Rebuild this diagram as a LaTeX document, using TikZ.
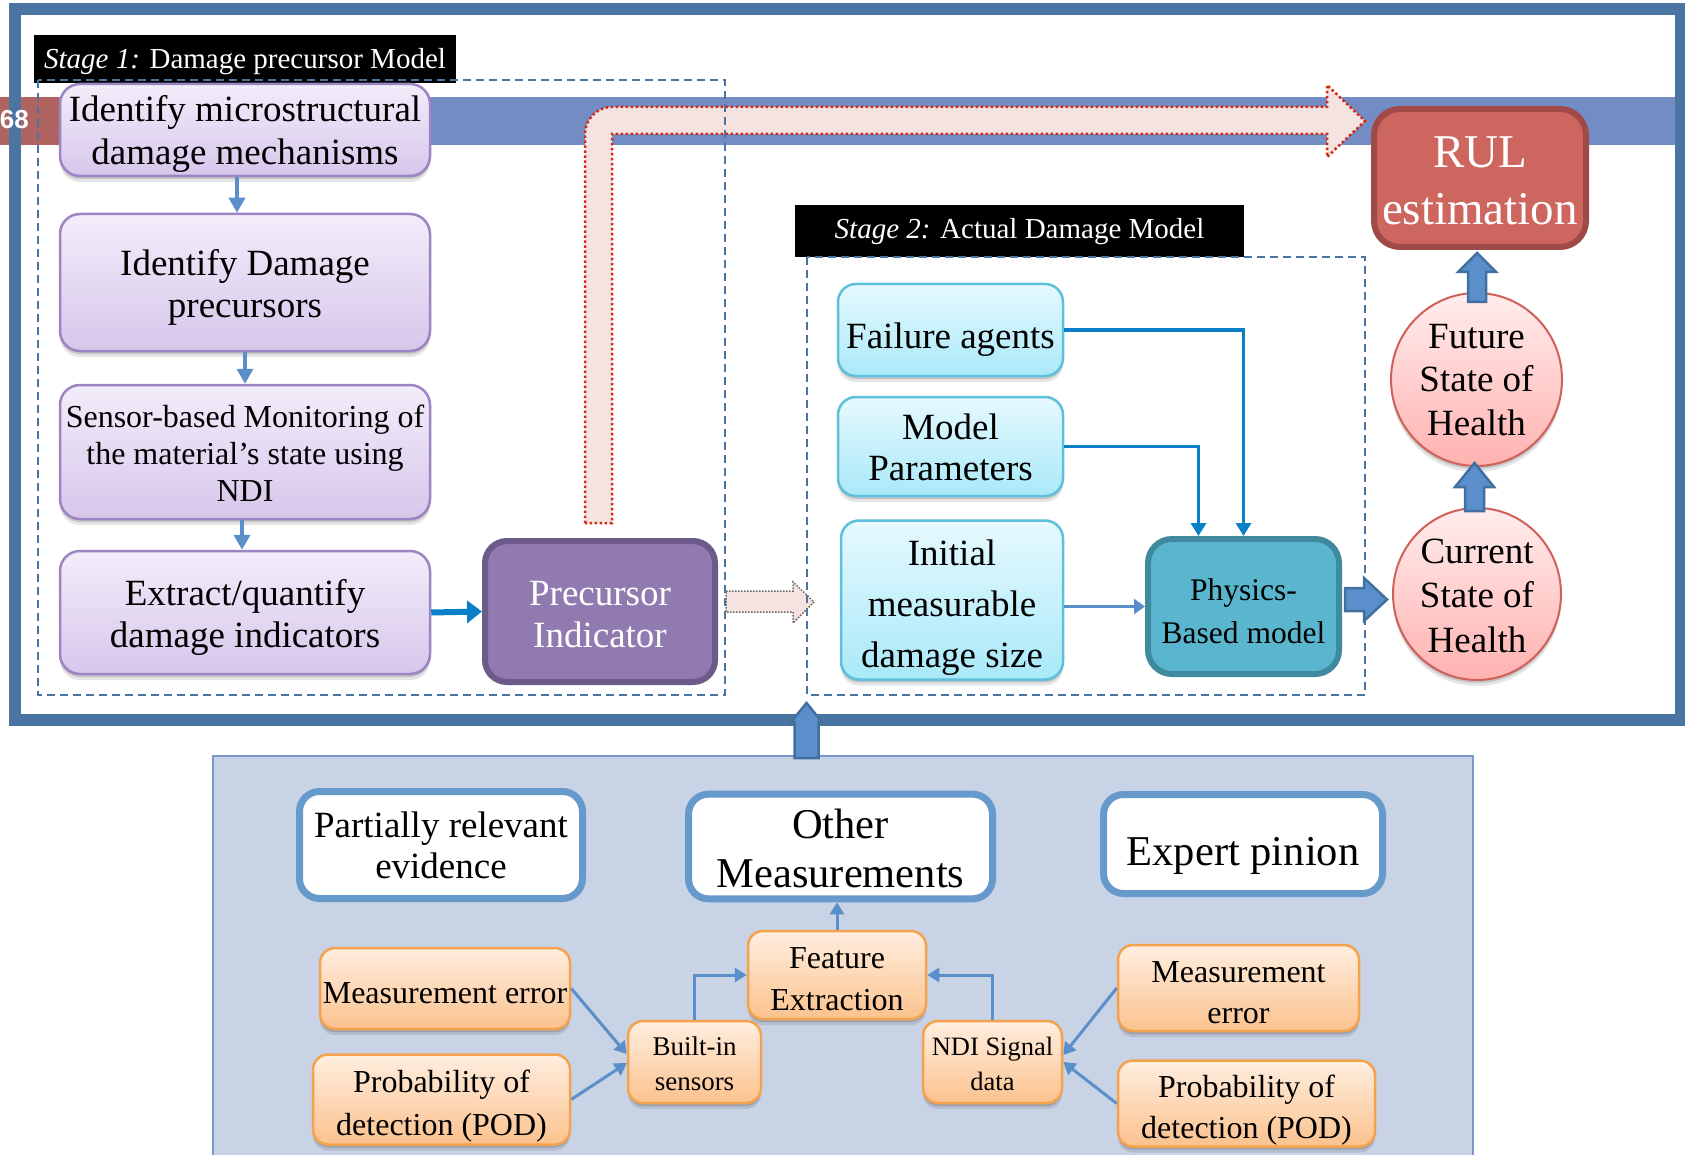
\documentclass[tikz,border=0pt]{standalone}
\usepackage{fontspec}
\setmainfont{Liberation Serif}
\newfontfamily\numfont{Liberation Sans}
\usetikzlibrary{shapes.geometric, arrows.meta, shadows, calc}

% palette
\definecolor{framec}{HTML}{4A74A2}
\definecolor{bandc}{HTML}{738CC4}
\definecolor{slidered}{HTML}{B06462}
\definecolor{dashc}{HTML}{4A74A2}
\definecolor{purptop}{HTML}{F2EDFA}
\definecolor{purpbot}{HTML}{D7C6EB}
\definecolor{purpedge}{HTML}{9D84C2}
\definecolor{precfill}{HTML}{917AB0}
\definecolor{precedge}{HTML}{6C5A8A}
\definecolor{cyantop}{HTML}{E6F9FE}
\definecolor{cyanbot}{HTML}{A9E9F9}
\definecolor{cyanedge}{HTML}{5EC0DA}
\definecolor{physfill}{HTML}{5AB6CF}
\definecolor{physedge}{HTML}{3F8A9F}
\definecolor{rulfill}{HTML}{CD665F}
\definecolor{ruledge}{HTML}{A04A47}
\definecolor{pinktop}{HTML}{FFEDED}
\definecolor{pinkbot}{HTML}{FFB2B0}
\definecolor{pinkedge}{HTML}{D0605A}
\definecolor{linkc}{HTML}{5B8FCB}
\definecolor{linkdark}{HTML}{0A7FCA}
\definecolor{blockfill}{HTML}{5B8FCB}
\definecolor{blockedge}{HTML}{41709E}
\definecolor{panelc}{HTML}{C9D3E6}
\definecolor{paneledge}{HTML}{7C98C8}
\definecolor{whiteedge}{HTML}{6699CC}
\definecolor{orgtop}{HTML}{FFEEDF}
\definecolor{orgbot}{HTML}{FBC28E}
\definecolor{orgedge}{HTML}{F5A24E}
\definecolor{arrowpink}{HTML}{F5E3E1}
\definecolor{dotred}{HTML}{D42A14}
\definecolor{dotgray}{HTML}{6E6A66}

\newcommand\fs[2]{\fontsize{#1}{#2}\selectfont}
% centred lines of a label, lowered by #1 pt without changing the box size
\newcommand\tx[2]{\raisebox{-#1pt}[\height][\depth]{\begin{tabular}{@{}c@{}}#2\end{tabular}}}

\tikzset{
  softshadow/.style={
    drop shadow={shadow xshift=0pt, shadow yshift=-3pt, opacity=0.14, fill=black},
    drop shadow={shadow xshift=0pt, shadow yshift=-6pt, opacity=0.10, fill=black}},
  purplebox/.style={draw=purpedge, line width=2.5pt, rounded corners=20pt,
    top color=purptop, bottom color=purpbot, inner sep=3pt, softshadow},
  precbox/.style={draw=precedge, line width=6pt, rounded corners=22pt, fill=precfill, text=white},
  cyanbox/.style={draw=cyanedge, line width=2.5pt, rounded corners=18pt,
    top color=cyantop, bottom color=cyanbot, inner sep=3pt, softshadow},
  physbox/.style={draw=physedge, line width=6pt, rounded corners=24pt, fill=physfill},
  rulbox/.style={draw=ruledge, line width=6pt, rounded corners=26pt, fill=rulfill, text=white},
  healthnode/.style={ellipse, draw=pinkedge, line width=2pt, top color=pinktop, bottom color=pinkbot,
    inner sep=-8pt, softshadow},
  stagelabel/.style={fill=black, text=white, inner sep=0pt},
  dashbox/.style={draw=dashc, line width=1.8pt, dash pattern=on 8pt off 5pt},
  whitebox/.style={draw=whiteedge, line width=7pt, rounded corners=20pt, fill=white},
  orangebox/.style={draw=orgedge, line width=2.5pt, rounded corners=15pt,
    top color=orgtop, bottom color=orgbot, inner sep=2pt, softshadow},
  lnk/.style={draw=linkc, line width=4.5pt, -{Triangle[length=15pt,width=16pt]}},
  lnkthick/.style={draw=linkdark, line width=6pt, -{Triangle[length=15pt,width=22pt]}},
  lnkdark/.style={draw=linkdark, line width=3.5pt, -{Triangle[length=13pt,width=15pt]}},
  lnkmid/.style={draw=linkc, line width=3.5pt, -{Triangle[length=11pt,width=15pt]}},
  lnksmall/.style={draw=linkc, line width=3pt, -{Triangle[length=12pt,width=14pt]}},
  blockarrow/.style={fill=blockfill, draw=blockedge, line width=2.5pt, line join=miter},
}

% vertical block arrow: x, base y, tip y, shaft half-width, head half-width, head length
\newcommand\uparrowshape[6]{%
  \filldraw[blockarrow] (#1-#4,#2) -- (#1-#4,#3+#6) -- (#1-#5,#3+#6) -- (#1,#3)
    -- (#1+#5,#3+#6) -- (#1+#4,#3+#6) -- (#1+#4,#2) -- cycle;}

\begin{document}
\begin{tikzpicture}[x=1pt, y=-1pt]
\useasboundingbox (0,0) rectangle (1685,1155);
\fill[white] (0,0) rectangle (1685,1155);

% slide title band behind the frame
\fill[bandc] (59,97) rectangle (1685,145);
\fill[slidered] (0,97) rectangle (59,145);

% outer frame
\draw[framec, line width=12pt] (14.5,9) rectangle (1681,720);
\node[anchor=east, text=white, inner sep=0pt, font=\numfont\bfseries\fs{26}{30}] (pagenum) at (29,120) {68};

% lower evidence panel
\filldraw[fill=panelc, draw=paneledge, line width=1.5pt] (213,756) rectangle (1473,1165);

% stage headers
\node[stagelabel, minimum width=422pt, minimum height=48pt, font=\fs{29}{34}] (st1) at (245,59)
  {\tx{2.5}{\textit{Stage 1:} Damage precursor Model}};
\node[stagelabel, minimum width=449pt, minimum height=52pt, font=\fs{29}{34}] (st2) at (1019.5,231)
  {\tx{0.5}{\textit{Stage 2:} Actual Damage Model}};

% precursor path to the RUL estimate
\filldraw[fill=arrowpink, draw=dotred, line width=2.5pt, dash pattern=on 2.5pt off 2.5pt]
  (585,523) -- (585,134) .. controls (585,119) and (597,107) .. (612,107) -- (1327,107)
  -- (1327,85) -- (1365,121) -- (1327,157) -- (1327,134) -- (612,134) -- (612,523) -- cycle;

% hand-over from stage 1 to stage 2
\filldraw[fill=arrowpink, draw=dotgray, line width=1.5pt, dash pattern=on 1.5pt off 1.5pt]
  (726,591) -- (793,591) -- (793,582) -- (814,602) -- (793,623) -- (793,612) -- (726,612) -- cycle;

% stage regions
\draw[dashbox] (38,80) rectangle (725,695);
\draw[dashbox] (807,257) rectangle (1365,695);

% stage 1
\node[purplebox, minimum width=370pt, minimum height=92pt, font=\fs{37}{43}] (b1) at (245,130)
  {\tx{4.6}{Identify microstructural\\damage mechanisms}};
\node[purplebox, minimum width=370pt, minimum height=137pt, font=\fs{37}{42}] (b2) at (245,282.5)
  {\tx{6.1}{Identify Damage\\precursors}};
\node[purplebox, minimum width=370pt, minimum height=134pt, font=\fs{32}{37}] (b3) at (245,452)
  {\tx{4.6}{Sensor-based Monitoring of\\the material’s state using\\NDI}};
\node[purplebox, minimum width=370pt, minimum height=123pt, font=\fs{37}{42}] (b4) at (245,612.5)
  {\tx{5.1}{Extract/quantify\\damage indicators}};
\node[precbox, minimum width=230pt, minimum height=141pt, font=\fs{37}{42}] (prec) at (600,611.5)
  {\tx{6.1}{Precursor\\Indicator}};

\draw[lnk] ([xshift=-8pt]b1.south) -- ([xshift=-8pt]b2.north);
\draw[lnk] (b2.south) -- (b2.south |- b3.north);
\draw[lnk] ([xshift=-3pt]b3.south) -- ([xshift=-3pt]b4.north);
\draw[lnkthick] (b4.east) -- (prec.west);

% stage 2
\node[cyanbox, minimum width=225pt, minimum height=92pt, font=\fs{37}{42}] (fail) at (950.5,330)
  {\tx{9.6}{Failure agents}};
\node[cyanbox, minimum width=225pt, minimum height=99pt, font=\fs{37}{41}] (mp) at (950.5,446.5)
  {\tx{4.8}{Model\\Parameters}};
\node[cyanbox, minimum width=222pt, minimum height=148pt, font=\fs{37}{51}] (init) at (952,600)
  {\tx{5.8}{Initial\\measurable\\damage size}};
\node[physbox, minimum width=191pt, minimum height=135pt, font=\fs{31.5}{43}] (phys) at (1243.5,606.5)
  {\tx{6.4}{Physics-\\Based model}};

\draw[lnkdark] (fail.east) -| (phys.north);
\draw[lnkdark] (mp.east) -| ([xshift=-45pt]phys.north);
\draw[lnkmid] (init.east |- phys.west) -- (phys.west);

% health states and RUL
\node[rulbox, minimum width=212pt, minimum height=138pt, font=\fs{47}{57}] (rul) at (1480,178)
  {\tx{7.1}{RUL\\estimation}};
\node[healthnode, minimum width=171pt, minimum height=173pt, font=\fs{37}{43.5}] (fut) at (1476.5,379.5)
  {\tx{3.3}{Future\\State of\\Health}};
\node[healthnode, minimum width=168pt, minimum height=172pt, font=\fs{37}{44.5}] (cur) at (1477,594)
  {\tx{4.6}{Current\\State of\\Health}};

\uparrowshape{1477}{302}{253}{9}{19}{19}
\uparrowshape{1474.5}{511}{463}{9.5}{19.5}{24}
\filldraw[blockarrow] (1345,588) -- (1364,588) -- (1364,578) -- (1387,599.5) -- (1364,621)
  -- (1364,611) -- (1345,611) -- cycle;
\uparrowshape{806.5}{758}{703}{12}{15.5}{19}

% evidence sources
\node[whitebox, minimum width=283pt, minimum height=107pt, font=\fs{37}{41}] (part) at (441,845)
  {\tx{4.3}{Partially relevant\\evidence}};
\node[whitebox, minimum width=304pt, minimum height=104pt, font=\fs{42.5}{49}] (oth) at (840.5,846.5)
  {\tx{6.2}{Other\\Measurements}};
\node[whitebox, minimum width=279pt, minimum height=99pt, font=\fs{42.5}{49}] (exp) at (1243,844)
  {\tx{11.2}{Expert pinion}};

\node[orangebox, minimum width=250pt, minimum height=81pt, font=\fs{32}{42}] (meL) at (445,988.5)
  {\tx{6.1}{Measurement error}};
\node[orangebox, minimum width=257pt, minimum height=79pt, font=\fs{32}{43}] (podL) at (441.5,1099.5)
  {\tx{5.4}{Probability of\\detection (POD)}};
\node[orangebox, minimum width=133pt, minimum height=82pt, font=\fs{27}{35}] (bin) at (694.5,1062)
  {\tx{3.5}{Built-in\\sensors}};
\node[orangebox, minimum width=178pt, minimum height=84pt, font=\fs{32}{42}] (feat) at (837,975)
  {\tx{5.6}{Feature\\Extraction}};
\node[orangebox, minimum width=139pt, minimum height=82pt, font=\fs{26.5}{35}] (ndi) at (992.5,1062)
  {\tx{3.5}{NDI Signal\\data}};
\node[orangebox, minimum width=241pt, minimum height=80pt, font=\fs{32}{41}] (meR) at (1238.5,988)
  {\tx{6.3}{Measurement\\error}};
\node[orangebox, minimum width=257pt, minimum height=79pt, font=\fs{32}{41}] (podR) at (1246.5,1103.5)
  {\tx{5.8}{Probability of\\detection (POD)}};

\draw[lnksmall] (feat.north) -- (feat.north |- oth.south);
\draw[lnksmall] (bin.north) |- (feat.west);
\draw[lnksmall] (ndi.north) |- (feat.east);
\draw[lnksmall] (meL.east) -- ($(bin.west)+(0,-8)$);
\draw[lnksmall] (podL.east) -- ($(bin.west)+(0,1)$);
\draw[lnksmall] (meR.west) -- ($(ndi.east)+(0,-7)$);
\draw[lnksmall] (podR.west) -- ($(ndi.east)+(0,0)$);
\end{tikzpicture}
\end{document}
